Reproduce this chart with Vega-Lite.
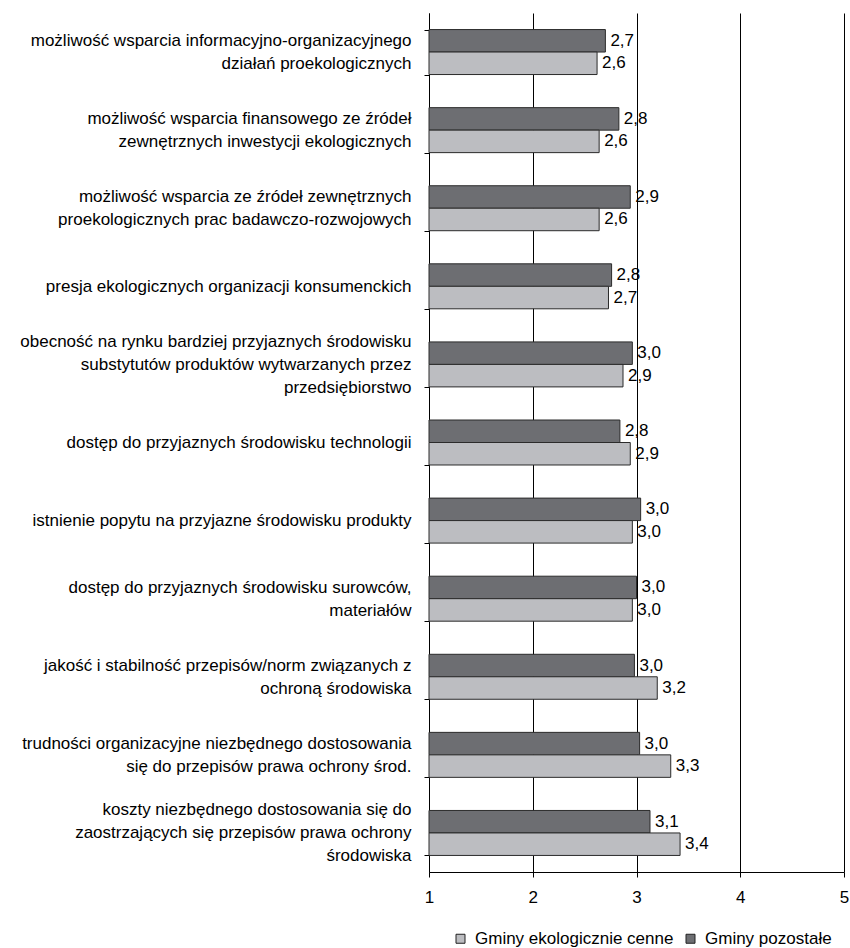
{
  "$schema": "https://vega.github.io/schema/vega-lite/v6.json",
  "width": 415,
  "height": 859,
  "autosize": {"type": "none"},
  "padding": {"left": 429, "top": 13, "right": 6, "bottom": 76},
  "config": {
    "locale": {"number": {"decimal": ",", "thousands": " ", "grouping": [3], "currency": ["", " zł"]}},
    "view": {"stroke": null},
    "font": "Liberation Sans"
  },
  "data": {
    "values": [
      {"kategoria": "możliwość wsparcia informacyjno-organizacyjnego|działań proekologicznych", "grupa": "Gminy pozostałe", "wartosc": 2.70},
      {"kategoria": "możliwość wsparcia informacyjno-organizacyjnego|działań proekologicznych", "grupa": "Gminy ekologicznie cenne", "wartosc": 2.62},
      {"kategoria": "możliwość wsparcia finansowego ze źródeł|zewnętrznych inwestycji ekologicznych", "grupa": "Gminy pozostałe", "wartosc": 2.83},
      {"kategoria": "możliwość wsparcia finansowego ze źródeł|zewnętrznych inwestycji ekologicznych", "grupa": "Gminy ekologicznie cenne", "wartosc": 2.64},
      {"kategoria": "możliwość wsparcia ze źródeł zewnętrznych|proekologicznych prac badawczo-rozwojowych", "grupa": "Gminy pozostałe", "wartosc": 2.94},
      {"kategoria": "możliwość wsparcia ze źródeł zewnętrznych|proekologicznych prac badawczo-rozwojowych", "grupa": "Gminy ekologicznie cenne", "wartosc": 2.64},
      {"kategoria": "presja ekologicznych organizacji konsumenckich", "grupa": "Gminy pozostałe", "wartosc": 2.76},
      {"kategoria": "presja ekologicznych organizacji konsumenckich", "grupa": "Gminy ekologicznie cenne", "wartosc": 2.73},
      {"kategoria": "obecność na rynku bardziej przyjaznych środowisku|substytutów produktów wytwarzanych przez|przedsiębiorstwo", "grupa": "Gminy pozostałe", "wartosc": 2.96},
      {"kategoria": "obecność na rynku bardziej przyjaznych środowisku|substytutów produktów wytwarzanych przez|przedsiębiorstwo", "grupa": "Gminy ekologicznie cenne", "wartosc": 2.87},
      {"kategoria": "dostęp do przyjaznych środowisku technologii", "grupa": "Gminy pozostałe", "wartosc": 2.84},
      {"kategoria": "dostęp do przyjaznych środowisku technologii", "grupa": "Gminy ekologicznie cenne", "wartosc": 2.94},
      {"kategoria": "istnienie popytu na przyjazne środowisku produkty", "grupa": "Gminy pozostałe", "wartosc": 3.04},
      {"kategoria": "istnienie popytu na przyjazne środowisku produkty", "grupa": "Gminy ekologicznie cenne", "wartosc": 2.96},
      {"kategoria": "dostęp do przyjaznych środowisku surowców,|materiałów", "grupa": "Gminy pozostałe", "wartosc": 3.00},
      {"kategoria": "dostęp do przyjaznych środowisku surowców,|materiałów", "grupa": "Gminy ekologicznie cenne", "wartosc": 2.96},
      {"kategoria": "jakość i stabilność przepisów/norm związanych z|ochroną środowiska", "grupa": "Gminy pozostałe", "wartosc": 2.98},
      {"kategoria": "jakość i stabilność przepisów/norm związanych z|ochroną środowiska", "grupa": "Gminy ekologicznie cenne", "wartosc": 3.20},
      {"kategoria": "trudności organizacyjne niezbędnego dostosowania|się do przepisów prawa ochrony środ.", "grupa": "Gminy pozostałe", "wartosc": 3.03},
      {"kategoria": "trudności organizacyjne niezbędnego dostosowania|się do przepisów prawa ochrony środ.", "grupa": "Gminy ekologicznie cenne", "wartosc": 3.33},
      {"kategoria": "koszty niezbędnego dostosowania się do|zaostrzających się przepisów prawa ochrony|środowiska", "grupa": "Gminy pozostałe", "wartosc": 3.13},
      {"kategoria": "koszty niezbędnego dostosowania się do|zaostrzających się przepisów prawa ochrony|środowiska", "grupa": "Gminy ekologicznie cenne", "wartosc": 3.42}
    ]
  },
  "encoding": {
    "y": {
      "field": "kategoria",
      "type": "nominal",
      "sort": null,
      "scale": {"paddingInner": 0.424, "paddingOuter": 0.212},
      "axis": {
        "title": null,
        "labelExpr": "split(datum.label, '|')",
        "labelFontSize": 17,
        "labelLineHeight": 23,
        "labelLimit": 0,
        "labelPadding": 13,
        "labelColor": "black",
        "labelOffset": {
          "condition": [
            {"test": "length(split(datum.value, '|')) == 3", "value": -23},
            {"test": "length(split(datum.value, '|')) == 2", "value": -11.5}
          ],
          "value": 0
        },
        "tickSize": 5,
        "tickBand": "extent",
        "tickColor": "black",
        "domainColor": "black",
        "grid": false
      }
    },
    "yOffset": {
      "field": "grupa",
      "type": "nominal",
      "sort": ["Gminy pozostałe", "Gminy ekologicznie cenne"],
      "scale": {"paddingInner": 0, "paddingOuter": 0}
    },
    "x": {
      "field": "wartosc",
      "type": "quantitative",
      "scale": {"domain": [1, 5], "zero": false, "nice": false},
      "axis": {
        "title": null,
        "values": [1, 2, 3, 4, 5],
        "format": "d",
        "grid": true,
        "gridColor": "black",
        "gridOpacity": 1,
        "domainColor": "black",
        "tickColor": "black",
        "tickSize": 5,
        "labelFontSize": 17,
        "labelPadding": 12,
        "labelColor": "black",
        "labelFlush": false
      }
    }
  },
  "layer": [
    {
      "mark": {"type": "bar", "stroke": "#2b2b2b", "strokeWidth": 1},
      "encoding": {
        "x2": {"datum": 1},
        "color": {
          "field": "grupa",
          "type": "nominal",
          "scale": {"domain": ["Gminy ekologicznie cenne", "Gminy pozostałe"], "range": ["#bcbdc1", "#6d6e72"]},
          "legend": {
            "orient": "none",
            "legendX": 23,
            "legendY": 917,
            "direction": "horizontal",
            "title": null,
            "symbolType": "square",
            "symbolSize": 81,
            "symbolStrokeColor": "#222222",
            "symbolStrokeWidth": 1,
            "labelFontSize": 17,
            "labelColor": "black",
            "labelLimit": 0,
            "labelOffset": 6,
            "columnPadding": 8,
            "padding": 0
          }
        }
      }
    },
    {
      "mark": {"type": "text", "align": "left", "baseline": "middle", "dx": 5, "fontSize": 17, "color": "black"},
      "encoding": {
        "text": {"field": "wartosc", "type": "quantitative", "format": ".1f"}
      }
    }
  ]
}
